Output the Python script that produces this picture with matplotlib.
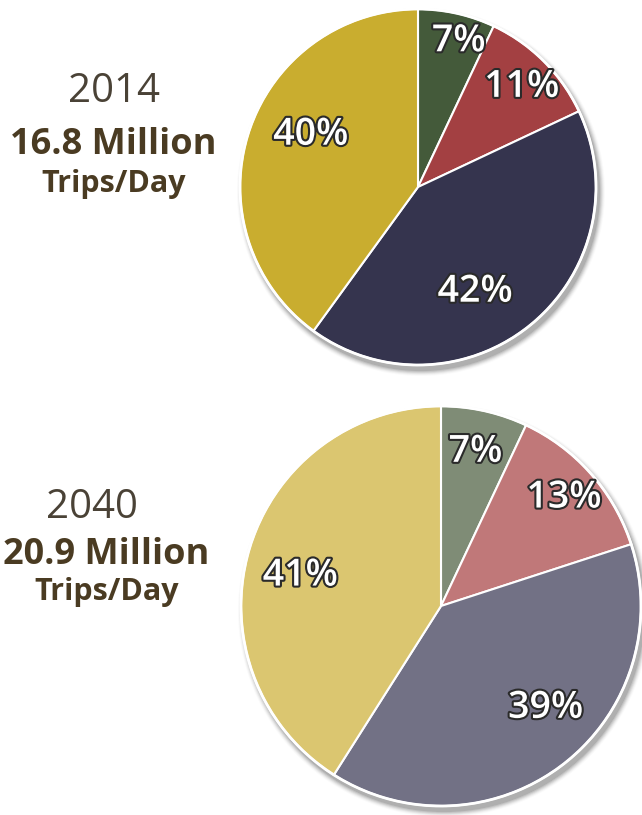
"""Two pies: daily trip shares for 2014 and 2040."""

import matplotlib.pyplot as plt
import matplotlib.patheffects as pe
import numpy as np
from matplotlib.patches import Circle

# ---------------------------------------------------------------------------
# Data
# ---------------------------------------------------------------------------
years = ['2014', '2040']
totals = ['16.8 Million', '20.9 Million']
shares_2014 = [7, 11, 42, 40]
shares_2040 = [7, 13, 39, 41]
colors_2014 = ['#445a3a', '#a34042', '#35344e', '#c9ad2f']
colors_2040 = ['#7f8c76', '#c07879', '#727185', '#dbc670']

TEXT = '#4a3b22'
FONT = 'Open Sans'

W, H = 642, 815
fig = plt.figure(figsize=(W / 100, H / 100), dpi=100)
ax = fig.add_axes([0, 0, 1, 1])
ax.set_xlim(0, W)
ax.set_ylim(0, H)
ax.set_aspect('equal')
ax.axis('off')

# pie placement (y from top) plus label radial fractions / angle nudges
layout = [
    dict(cx=418, cy=187, r=178, dist=[0.85, 0.81, 0.67, 0.67], nudge=[-3, -1, -11, -8],
         text_x=[114, 113, 114], text_y=[92, 145, 184]),
    dict(cx=441, cy=606, r=200, dist=[0.79, 0.82, 0.73, 0.72], nudge=[0, 0, 8, 4],
         text_x=[92, 106, 107], text_y=[508, 555, 592]),
]


def draw_pie(values, colors, spec):
    cx, cy, r = spec['cx'], H - spec['cy'], spec['r']
    # soft drop shadow
    for k, a in enumerate(np.linspace(0.10, 0.02, 6)):
        ax.add_patch(Circle((cx + 3, cy - 5), r + 1 + k, color='black', alpha=a,
                            lw=0, zorder=1))
    wedges, _ = ax.pie(values, colors=colors, startangle=90, counterclock=False,
                       center=(cx, cy), radius=r,
                       wedgeprops=dict(edgecolor='white', linewidth=1.5))
    for w in wedges:
        w.set_zorder(2)
    ax.add_patch(Circle((cx, cy), r, fill=False, ec='white', lw=2, zorder=3))
    for w, v, d, n in zip(wedges, values, spec['dist'], spec['nudge']):
        ang = np.deg2rad((w.theta1 + w.theta2) / 2 + n)
        ax.text(cx + d * r * np.cos(ang), cy + d * r * np.sin(ang), f'{v}%',
                ha='center', va='center', color='white', fontsize=27,
                family=FONT, fontweight='semibold', zorder=4,
                path_effects=[pe.withStroke(linewidth=3, foreground='#2a2a2a')])


for year, total, vals, cols, spec in zip(years, totals, [shares_2014, shares_2040],
                                         [colors_2014, colors_2040], layout):
    draw_pie(vals, cols, spec)
    x0, x1, x2 = spec['text_x']
    y0, y1, y2 = (H - y for y in spec['text_y'])
    ax.text(x0, y0, year, ha='center', va='center', fontsize=29, color='#4a4236',
            family=FONT)
    ax.text(x1, y1, total, ha='center', va='center', fontsize=26, color=TEXT,
            family=FONT, fontweight='bold')
    ax.text(x2, y2, 'Trips/Day', ha='center', va='center', fontsize=22, color=TEXT,
            family=FONT, fontweight='bold')

ax.set_xlim(0, W)
ax.set_ylim(0, H)
fig.savefig('out.png', dpi=100)
